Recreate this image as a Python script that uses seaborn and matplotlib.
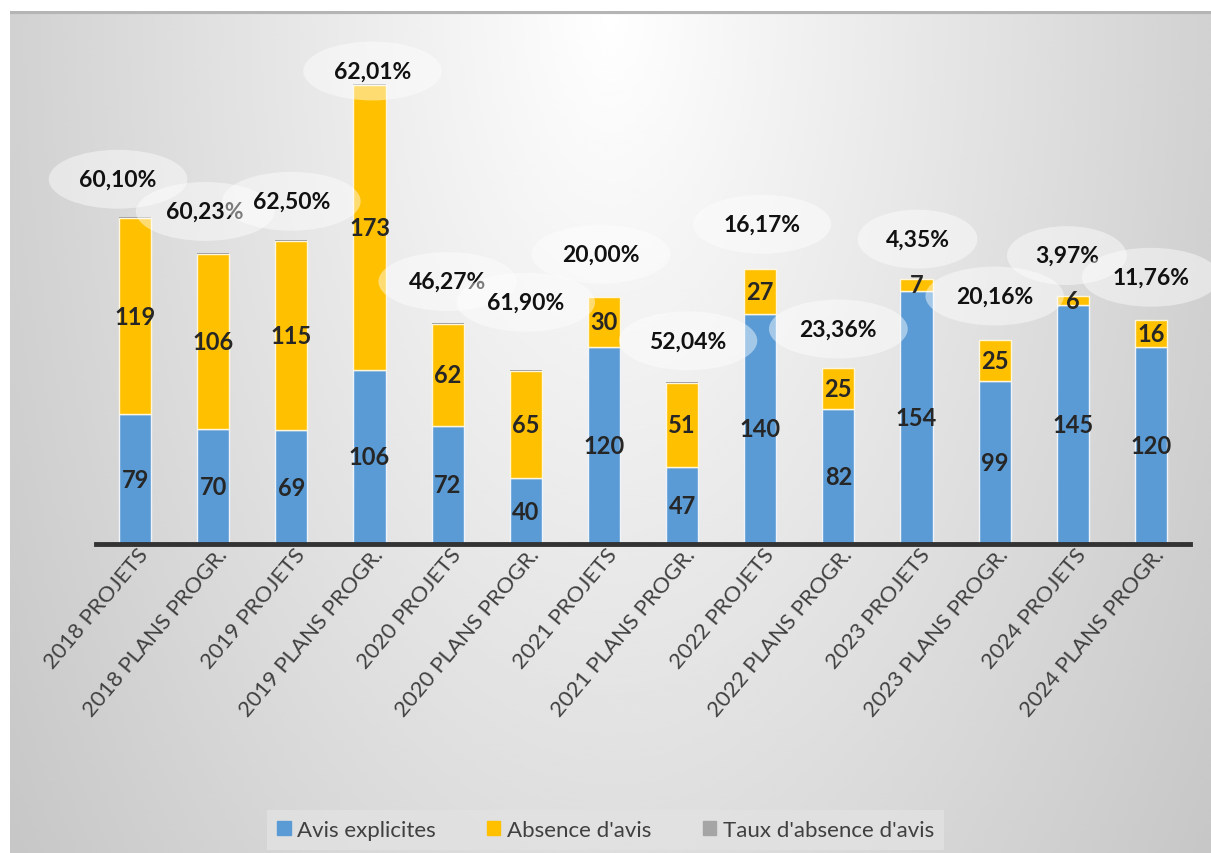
"""Avis explicites / absence d'avis, projets et plans-programmes 2018-2024."""
import numpy as np
import pandas as pd
import seaborn as sns
import matplotlib.pyplot as plt
from matplotlib.patches import Patch
from matplotlib.transforms import ScaledTranslation

categories = ['2018 PROJETS', '2018 PLANS PROGR.', '2019 PROJETS', '2019 PLANS PROGR.',
              '2020 PROJETS', '2020 PLANS PROGR.', '2021 PROJETS', '2021 PLANS PROGR.',
              '2022 PROJETS', '2022 PLANS PROGR.', '2023 PROJETS', '2023 PLANS PROGR.',
              '2024 PROJETS', '2024 PLANS PROGR.']
avis_explicites = [79, 70, 69, 106, 72, 40, 120, 47, 140, 82, 154, 99, 145, 120]
absence_avis = [119, 106, 115, 173, 62, 65, 30, 51, 27, 25, 7, 25, 6, 16]
taux_absence = [60.10, 60.23, 62.50, 62.01, 46.27, 61.90, 20.00, 52.04,
                16.17, 23.36, 4.35, 20.16, 3.97, 11.76]

BLUE = '#5B9BD5'
YELLOW = '#FFC000'
GRAY = '#A5A5A5'
TXT = '#262626'

sns.set_style('white')
plt.rcParams['font.family'] = ['Lato', 'DejaVu Sans']

df = pd.DataFrame({'cat': categories, 'avis': avis_explicites,
                   'absence': absence_avis, 'taux': np.array(taux_absence) / 100})
df['base2'] = df['avis'] + df['absence']

fig = plt.figure(figsize=(12.11, 8.54), dpi=100)
fig.patch.set_facecolor('white')

# background: soft gradient like the office chart area
bg = fig.add_axes([10 / 1211, 0, 1 - 10 / 1211, (854 - 12) / 854], zorder=-5)
gy, gx = np.mgrid[0:1:300j, 0:1:400j]
d = np.sqrt(((gx - 0.5) / 0.55) ** 2 + (gy / 1.5) ** 2)
shade = np.clip(255 - 50 * d, 198, 255) / 255
bg.imshow(shade, cmap='gray', vmin=0, vmax=1, aspect='auto', interpolation='bicubic')
bg.axhline(0, color='#b5b5b5', lw=3)
bg.axis('off')

ax = fig.add_axes([96 / 1211, (854 - 545) / 854, 1094 / 1211, (545 - 35) / 854])
ax.patch.set_alpha(0)

sns.barplot(data=df, x='cat', y='avis', color=BLUE, width=0.41, ax=ax,
            edgecolor='#eef4fa', linewidth=1, saturation=1)
sns.barplot(data=df, x='cat', y='absence', bottom=df['avis'], color=YELLOW, width=0.41,
            ax=ax, edgecolor='#fff6dc', linewidth=1, saturation=1)
sns.barplot(data=df, x='cat', y='taux', bottom=df['base2'], color=GRAY, width=0.41,
            ax=ax, edgecolor='none', saturation=1)

ax.set_ylim(0, 310)
ax.set_xlim(-0.5, len(categories) - 0.5)
ax.set_xlabel('')
ax.set_ylabel('')
ax.set_yticks([])
sns.despine(ax=ax, left=True)
ax.spines['bottom'].set_color('#333333')
ax.spines['bottom'].set_linewidth(3.5)
ax.tick_params(axis='x', length=0, pad=5)
shift = ScaledTranslation(10 / 100, 0, fig.dpi_scale_trans)
for lab in ax.get_xticklabels():
    lab.set_rotation(50)
    lab.set_ha('right')
    lab.set_va('center')
    lab.set_rotation_mode('anchor')
    lab.set_fontsize(16)
    lab.set_color('#404040')
    lab.set_transform(lab.get_transform() + shift)

# values inside the segments
for i in range(len(categories)):
    a, b = avis_explicites[i], absence_avis[i]
    ax.text(i, a / 2, str(a), ha='center', va='center', fontsize=17,
            fontweight='bold', color=TXT)
    ax.text(i, a + b / 2, str(b), ha='center', va='center', fontsize=17,
            fontweight='bold', color=TXT)

# rate labels in bubbles above each bar
pct_dx = [-17, -8, 0, 3, 0, 0, -3, 6, 2, 0, 1, 0, -6, 0]
pct_dy = [39, 43, 40, 14, 42, 69, 43, 42, 45, 39, 40, 44, 40, 43]
for i, t in enumerate(taux_absence):
    top = avis_explicites[i] + absence_avis[i]
    txt = f'{t:.2f}%'.replace('.', ',')
    ax.annotate(txt, (i, top), xytext=(pct_dx[i], pct_dy[i]),
                textcoords='offset pixels', ha='center', va='center',
                fontsize=16.5, fontweight='bold', color='#111111', annotation_clip=False,
                bbox=dict(boxstyle='ellipse,pad=0.45', fc='white', ec='none', alpha=0.45))

handles = [Patch(color=BLUE, label='Avis explicites'),
           Patch(color=YELLOW, label="Absence d'avis"),
           Patch(color=GRAY, label="Taux d'absence d'avis")]
leg = fig.legend(handles=handles, loc='center', bbox_to_anchor=(0.5, 0.027), ncol=3,
                 fontsize=16, frameon=True, fancybox=False, handlelength=0.6,
                 handleheight=0.6, handletextpad=0.3, columnspacing=2.3,
                 borderpad=0.45)
leg.get_frame().set_facecolor('#e2e2e2')
leg.get_frame().set_edgecolor('none')
leg.get_frame().set_alpha(0.8)
for t in leg.get_texts():
    t.set_color('#404040')

fig.savefig('out.png', dpi=100)
